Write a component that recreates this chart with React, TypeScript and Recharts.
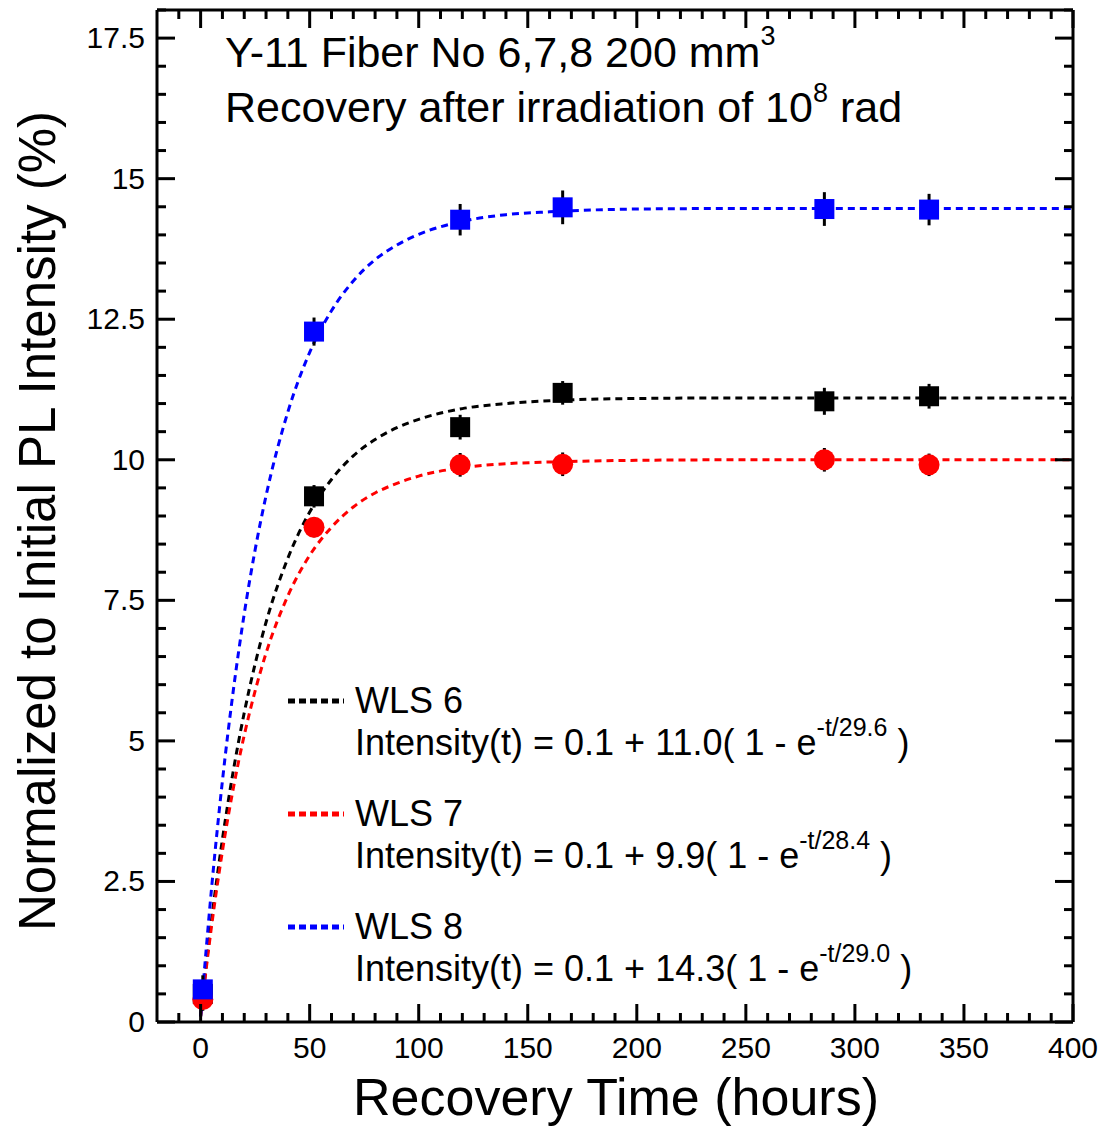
import {
  ComposedChart, Line, Scatter, ErrorBar,
  XAxis, YAxis,
} from "recharts";

const FONT = "'Liberation Sans', Arial, sans-serif";

// measured points (recovery hours, % of initial PL)
const hoursMeasured = [1, 52, 119, 166, 286, 334];
const wls6 = [0.5, 9.35, 10.58, 11.19, 11.04, 11.13];
const wls6Err = [0.2, 0.2, 0.22, 0.21, 0.24, 0.22];
const wls7 = [0.4, 8.8, 9.91, 9.92, 10.0, 9.91];
const wls7Err = [0.2, 0.18, 0.21, 0.21, 0.21, 0.2];
const wls8 = [0.58, 12.28, 14.27, 14.49, 14.46, 14.45];
const wls8Err = [0.25, 0.25, 0.28, 0.3, 0.3, 0.28];

// fit curves
const fitHours = [0, 5, 10, 15, 20, 25, 30, 40, 50, 60, 70, 80, 90, 100, 120, 140, 160, 200, 250, 300, 350, 400];
const fit6 = [0.1, 1.81, 3.25, 4.47, 5.5, 6.37, 7.11, 8.25, 9.07, 9.65, 10.07, 10.36, 10.57, 10.72, 10.91, 11.0, 11.05, 11.09, 11.1, 11.1, 11.1, 11.1];
const fit7 = [0.1, 1.7, 3.04, 4.16, 5.1, 5.89, 6.56, 7.58, 8.3, 8.8, 9.16, 9.41, 9.58, 9.71, 9.86, 9.93, 9.96, 9.99, 10.0, 10.0, 10.0, 10.0];
const fit8 = [0.1, 2.37, 4.29, 5.9, 7.26, 8.4, 9.36, 10.85, 11.91, 12.65, 13.18, 13.56, 13.82, 14.01, 14.24, 14.36, 14.41, 14.46, 14.47, 14.47, 14.47, 14.47];

// legend / fit parameters
const seriesNames = ["WLS 6", "WLS 7", "WLS 8"];
const seriesColors = ["#000000", "#ff0000", "#0000ff"];
const fitOffset = ["0.1", "0.1", "0.1"];
const fitAmp = ["11.0", "9.9", "14.3"];
const fitTau = ["29.6", "28.4", "29.0"];

// axis ticks
const xMajor = [0, 50, 100, 150, 200, 250, 300, 350, 400];
const yMajor = [0, 2.5, 5, 7.5, 10, 12.5, 15, 17.5];
const xTicks = Array.from({ length: 42 }, (_, i) => -10 + i * 10);
const yTicks = Array.from({ length: 37 }, (_, i) => i * 0.5);

const pts = (ys: number[], errs: number[]) =>
  hoursMeasured.map((x, i) => ({ x, y: ys[i], err: errs[i] }));
const curve = (ys: number[]) => fitHours.map((x, i) => ({ x, y: ys[i] }));

const MAJ = 18, MIN = 9;

function BottomTick({ x, y, payload }: any) {
  const major = xMajor.includes(payload.value);
  return (
    <g>
      <line x1={x} x2={x} y1={y} y2={y - (major ? MAJ : MIN)} stroke="#000" strokeWidth={3} />
      {major && (
        <text x={x} y={y + 36} textAnchor="middle" fontSize={30} fontFamily={FONT} fill="#000">
          {payload.value}
        </text>
      )}
    </g>
  );
}
function TopTick({ x, y, payload }: any) {
  const major = xMajor.includes(payload.value);
  return <line x1={x} x2={x} y1={y} y2={y + (major ? MAJ : MIN)} stroke="#000" strokeWidth={3} />;
}
function LeftTick({ x, y, payload }: any) {
  const major = yMajor.includes(payload.value);
  return (
    <g>
      <line x1={x} x2={x + (major ? MAJ : MIN)} y1={y} y2={y} stroke="#000" strokeWidth={3} />
      {major && (
        <text x={x - 12} y={y + 10} textAnchor="end" fontSize={30} fontFamily={FONT} fill="#000">
          {payload.value}
        </text>
      )}
    </g>
  );
}
function RightTick({ x, y, payload }: any) {
  const major = yMajor.includes(payload.value);
  return <line x1={x} x2={x - (major ? MAJ : MIN)} y1={y} y2={y} stroke="#000" strokeWidth={3} />;
}

const squareShape = (color: string) => (p: any) =>
  <rect x={p.cx - 10} y={p.cy - 10} width={20} height={20} fill={color} />;
const circleShape = (color: string) => (p: any) =>
  <circle cx={p.cx} cy={p.cy} r={10.5} fill={color} />;

export default function App() {
  return (
    <div style={{ position: "absolute", left: 0, top: 0, width: 1101, height: 1128, background: "#fff" }}>
      <ComposedChart width={1101} height={1128} margin={{ top: 9, right: 27, bottom: 0, left: 0 }}>
        <XAxis xAxisId="b" dataKey="x" type="number" domain={[-20, 400]} allowDataOverflow
          ticks={xTicks} interval={0} tickSize={0} tickMargin={0} tickLine={false}
          height={106} axisLine={{ stroke: "#000", strokeWidth: 3 }} tick={<BottomTick />} />
        <XAxis xAxisId="t" orientation="top" dataKey="x" type="number" domain={[-20, 400]} allowDataOverflow
          ticks={xTicks} interval={0} tickSize={0} tickMargin={0} tickLine={false}
          height={1} axisLine={{ stroke: "#000", strokeWidth: 3 }} tick={<TopTick />} />
        <YAxis yAxisId="l" type="number" domain={[0, 18]} allowDataOverflow
          ticks={yTicks} interval={0} tickSize={0} tickMargin={0} tickLine={false}
          width={157} axisLine={{ stroke: "#000", strokeWidth: 3 }} tick={<LeftTick />} />
        <YAxis yAxisId="r" orientation="right" type="number" domain={[0, 18]} allowDataOverflow
          ticks={yTicks} interval={0} tickSize={0} tickMargin={0} tickLine={false}
          width={1} axisLine={{ stroke: "#000", strokeWidth: 3 }} tick={<RightTick />} />

        {/* invisible series so the mirrored top/right frame axes get drawn */}
        <Line xAxisId="t" yAxisId="r" data={curve(fit8)} dataKey="y" stroke="none"
          dot={false} activeDot={false} legendType="none" isAnimationActive={false} />

        {[fit6, fit7, fit8].map((f, i) => (
          <Line key={"fit" + i} xAxisId="b" yAxisId="l" data={curve(f)} dataKey="y"
            type="monotone" stroke={seriesColors[i]} strokeWidth={3} strokeDasharray="7 5"
            dot={false} activeDot={false} isAnimationActive={false} />
        ))}

        <Scatter xAxisId="b" yAxisId="l" data={pts(wls6, wls6Err)} dataKey="y"
          shape={squareShape(seriesColors[0])} isAnimationActive={false}>
          <ErrorBar dataKey="err" direction="y" width={0} stroke="#000" strokeWidth={3} isAnimationActive={false} />
        </Scatter>
        <Scatter xAxisId="b" yAxisId="l" data={pts(wls7, wls7Err)} dataKey="y"
          shape={circleShape(seriesColors[1])} isAnimationActive={false}>
          <ErrorBar dataKey="err" direction="y" width={0} stroke="#000" strokeWidth={3} isAnimationActive={false} />
        </Scatter>
        <Scatter xAxisId="b" yAxisId="l" data={pts(wls8, wls8Err)} dataKey="y"
          shape={squareShape(seriesColors[2])} isAnimationActive={false}>
          <ErrorBar dataKey="err" direction="y" width={0} stroke="#000" strokeWidth={3} isAnimationActive={false} />
        </Scatter>
      </ComposedChart>

      {/* titles, axis labels and fit legend */}
      <svg width={1101} height={1128} style={{ position: "absolute", left: 0, top: 0, pointerEvents: "none" }}
        fontFamily={FONT} fill="#000">
        <text x={225} y={67} fontSize={43}>
          Y-11 Fiber No 6,7,8 200 mm<tspan dy={-22} fontSize={27}>3</tspan>
        </text>
        <text x={225} y={122} fontSize={43}>
          Recovery after irradiation of 10<tspan dy={-20} fontSize={27}>8</tspan>
          <tspan dy={20}> rad</tspan>
        </text>

        <text x={616} y={1115} fontSize={52} textAnchor="middle">Recovery Time (hours)</text>
        <text x={55} y={521} fontSize={51} textAnchor="middle" transform="rotate(-90 55 521)">
          Normalized to Initial PL Intensity (%)
        </text>

        {seriesNames.map((name, i) => {
          const y0 = 713 + i * 113;
          return (
            <g key={name}>
              <line x1={288} x2={344} y1={y0 - 12} y2={y0 - 12} stroke={seriesColors[i]}
                strokeWidth={5} strokeDasharray="7 4" />
              <text x={355} y={y0} fontSize={36}>{name}</text>
              <text x={355} y={y0 + 42} fontSize={36}>
                {`Intensity(t) = ${fitOffset[i]} + ${fitAmp[i]}( 1 - e`}
                <tspan dy={-19} fontSize={25}>{`-t/${fitTau[i]}`}</tspan>
                <tspan dy={19}>{"  )"}</tspan>
              </text>
            </g>
          );
        })}
      </svg>
    </div>
  );
}
